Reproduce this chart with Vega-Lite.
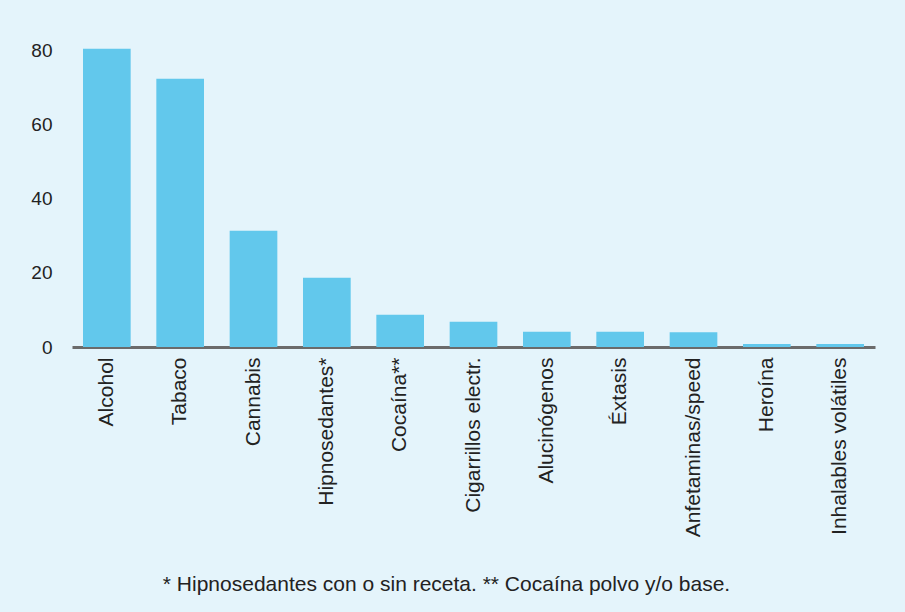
{
  "$schema": "https://vega.github.io/schema/vega-lite/v6.json",
  "autosize": "none",
  "width": 803,
  "height": 315,
  "padding": {"left": 72, "top": 32, "right": 30, "bottom": 265},
  "background": "#e4f4fb",
  "config": {"view": {"stroke": null}, "font": "Liberation Sans"},
  "title": {
    "text": "* Hipnosedantes con o sin receta. ** Cocaína polvo y/o base.",
    "orient": "bottom",
    "anchor": "middle",
    "fontSize": 21,
    "fontWeight": "normal",
    "color": "#222222",
    "offset": 37,
    "dx": -27
  },
  "data": {
    "values": [
      {"sustancia": "Alcohol", "valor": 80.5},
      {"sustancia": "Tabaco", "valor": 72.4},
      {"sustancia": "Cannabis", "valor": 31.4},
      {"sustancia": "Hipnosedantes*", "valor": 18.7},
      {"sustancia": "Cocaína**", "valor": 8.7},
      {"sustancia": "Cigarrillos electr.", "valor": 6.8},
      {"sustancia": "Alucinógenos", "valor": 4.1},
      {"sustancia": "Éxtasis", "valor": 4.1},
      {"sustancia": "Anfetaminas/speed", "valor": 4.0},
      {"sustancia": "Heroína", "valor": 0.8},
      {"sustancia": "Inhalables volátiles", "valor": 0.8}
    ]
  },
  "mark": {"type": "bar", "color": "#62c8ec"},
  "encoding": {
    "x": {
      "field": "sustancia",
      "type": "nominal",
      "sort": null,
      "scale": {"paddingInner": 0.35, "paddingOuter": 0.15},
      "axis": {
        "title": null,
        "labelAngle": -90,
        "labelAlign": "right",
        "labelBaseline": "middle",
        "labelFontSize": 21,
        "labelColor": "#222222",
        "labelPadding": 10,
        "ticks": false,
        "domainColor": "#6b6b6b",
        "domainWidth": 3,
        "labelLimit": 300
      }
    },
    "y": {
      "field": "valor",
      "type": "quantitative",
      "scale": {"domain": [0, 85], "nice": false},
      "axis": {
        "title": null,
        "values": [0, 20, 40, 60, 80],
        "grid": false,
        "domain": false,
        "ticks": false,
        "labelFontSize": 19,
        "labelColor": "#222222",
        "labelPadding": 20
      }
    }
  }
}
